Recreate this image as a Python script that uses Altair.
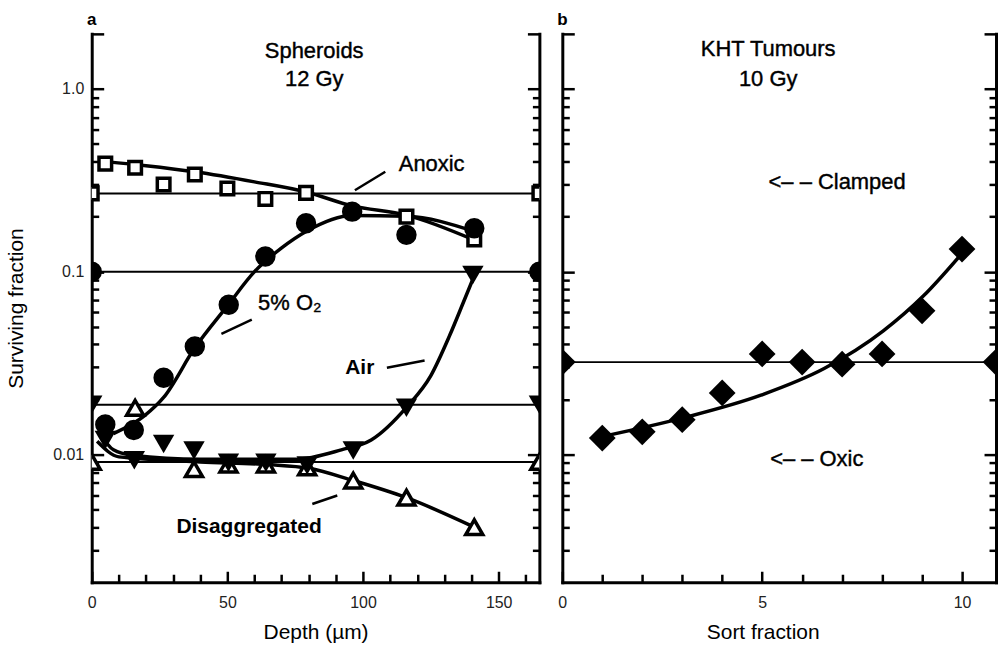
import altair as alt
import pandas as pd

# ---------------- Panel a: Spheroids, 12 Gy ----------------
anoxic_depth = [5, 16, 26.5, 38, 50, 64, 79, 116, 141]
anoxic_sf = [0.39, 0.37, 0.30, 0.34, 0.285, 0.25, 0.27, 0.20, 0.15]
o2_depth = [5, 15.5, 26.5, 38, 50.5, 64, 79, 96, 116, 141]
o2_sf = [0.0146, 0.0136, 0.0263, 0.039, 0.066, 0.121, 0.184, 0.213, 0.159, 0.173]
air_depth = [5, 15.7, 26.5, 37.7, 50.4, 64.2, 79.4, 96.4, 116, 140.5]
air_sf = [0.012, 0.0093, 0.0114, 0.0105, 0.0090, 0.0090, 0.0087, 0.0105, 0.018, 0.096]
dis_depth = [16, 37.7, 50.4, 64.2, 79.4, 96.4, 116, 141]
dis_sf = [0.018, 0.0083, 0.0088, 0.0088, 0.0085, 0.0072, 0.0058, 0.0040]

# hand-drawn fitted curves
anoxic_curve_depth = [5, 20, 38, 60, 79, 96, 116, 141]
anoxic_curve_sf = [0.40, 0.38, 0.352, 0.31, 0.273, 0.229, 0.204, 0.149]
o2_curve_depth = [8, 19.5, 26.5, 38, 50, 60, 70, 79, 96, 116, 141]
o2_curve_sf = [0.0130, 0.0163, 0.0205, 0.0383, 0.065, 0.10, 0.135, 0.166, 0.203, 0.201, 0.166]
air_curve_depth = [3, 8, 15, 40, 75, 92, 103, 116, 125, 132, 137, 141]
air_curve_sf = [0.0130, 0.0106, 0.0099, 0.0094, 0.0094, 0.0106, 0.0120, 0.0181, 0.027, 0.045, 0.068, 0.095]
dis_curve_depth = [2, 10, 40, 65, 80, 96.4, 116, 141]
dis_curve_sf = [0.0118, 0.0097, 0.0091, 0.0088, 0.0084, 0.0072, 0.0058, 0.0040]

# horizontal reference levels (markers sit at both ends)
level_names_a = ["Anoxic", "5% O2", "Air", "Disaggregated"]
level_sf_a = [0.268, 0.10, 0.0187, 0.0091]
edge_depth = [0, 165]

# ---------------- Panel b: KHT tumours, 10 Gy ----------------
sort_fraction = [1, 2, 3, 4, 5, 6, 7, 8, 9, 10]
kht_sf = [0.0123, 0.0133, 0.0155, 0.0217, 0.0355, 0.032, 0.0312, 0.0355, 0.0611, 0.133]
kht_curve_x = [1.05, 3.05, 4.97, 6.55, 8.03, 9.03, 10.0]
kht_curve_sf = [0.0126, 0.0159, 0.0211, 0.0295, 0.0474, 0.0735, 0.126]
level_sf_b = [0.032]
edge_sort = [0, 10.85]

# ---------------- ticks ----------------
y_ticks = [0.003, 0.004, 0.005, 0.006, 0.007, 0.008, 0.009,
           0.01, 0.02, 0.03, 0.04, 0.05, 0.06, 0.07, 0.08, 0.09,
           0.1, 0.2, 0.3, 0.4, 0.5, 0.6, 0.7, 0.8, 0.9, 1, 2]
x_ticks_a = [0, 10, 20, 30, 40, 50, 60, 70, 80, 90, 100, 110, 120, 130, 140, 150, 160]
x_ticks_b = [0, 1, 2, 3, 4, 5, 6, 7, 8, 9, 10]

# ---------------- annotations ----------------
ann_a_text = ["Anoxic", "5%  O₂"]
ann_a_x = [125.3, 73]
ann_a_y = [0.39, 0.0674]
ann_a_bold_text = ["Air", "Disaggregated"]
ann_a_bold_x = [98.8, 58]
ann_a_bold_y = [0.0298, 0.0040]
head_a_text = ["Spheroids", "12 Gy"]
head_a_x = [82, 82]
head_a_y = [1.62, 1.13]
lead_a_x = [108.2, 59, 108.8, 81.3]
lead_a_y = [0.352, 0.0546, 0.0298, 0.00536]
lead_a_x2 = [97, 47.8, 122.7, 90.5]
lead_a_y2 = [0.279, 0.0457, 0.0327, 0.00596]

head_b_text = ["KHT Tumours", "10 Gy"]
head_b_x = [5.15, 5.15]
head_b_y = [1.65, 1.13]
ann_b_text = ["<– – Clamped", "<– – Oxic"]
ann_b_x = [5.16, 5.2]
ann_b_y = [0.311, 0.0094]

FONT = "Liberation Sans"
Y_SCALE = alt.Scale(type="log", domain=[0.002, 2], nice=False)
XA_SCALE = alt.Scale(domain=[0, 165], nice=False, zero=False)
XB_SCALE = alt.Scale(domain=[0, 10.85], nice=False, zero=False)

Y_TICK = alt.ExprRef(expr="(datum.value == 0.01 || datum.value == 0.1 || datum.value == 1 || datum.value == 2) ? -12 : -7")
Y_LABELS = "datum.value == 1 ? '1.0' : (datum.value == 0.1 ? '0.1' : (datum.value == 0.01 ? '0.01' : ''))"

common_axis = dict(grid=False, domainColor="black", domainWidth=3, domainCap="square",
                   tickColor="black", tickWidth=2.5, labelOverlap=False, labelFlush=False)


def y_axis(orient, labels):
    if labels:
        return alt.Axis(orient=orient, values=y_ticks, tickSize=Y_TICK, labelExpr=Y_LABELS,
                        labelPadding=20, labelFont=FONT, labelFontSize=16, labelColor="#222",
                        titleFont=FONT, titleFontSize=21, titleFontWeight="normal",
                        titleColor="black", titlePadding=26, **common_axis)
    return alt.Axis(orient=orient, values=y_ticks, tickSize=Y_TICK, labels=False, **common_axis)


def x_axis(values, major, title_x=None):
    kw = dict(orient="bottom", values=values,
              tickSize=alt.ExprRef(expr=f"datum.value % {major} == 0 ? -11 : -8"),
              labelExpr=f"datum.value % {major} == 0 ? datum.label : ''",
              labelPadding=23, labelFont=FONT, labelFontSize=16, labelColor="#222",
              titleFont=FONT, titleFontSize=21, titleFontWeight="normal",
              titleColor="black", titlePadding=8, **common_axis)
    if title_x is not None:
        kw["titleX"] = title_x
    return alt.Axis(**kw)


def frame(xs, ys, **cols):
    d = {"x": xs, "y": ys}
    d.update(cols)
    return pd.DataFrame(d)


def build_panel(x_scale, x_ax, x_title, y_left, y_title, curves, marker_layers, texts, leaders,
                levels, letter, width):
    def enc(**extra):
        e = dict(x=alt.X("x:Q", scale=x_scale, axis=x_ax, title=x_title),
                 y=alt.Y("y:Q", scale=Y_SCALE, axis=y_left, title=y_title))
        e.update(extra)
        return e

    layers = []
    layers.append(alt.Chart(curves).mark_line(color="black", strokeWidth=3.5, interpolate="monotone")
                  .encode(**enc(detail="series:N")))
    for df, mk in marker_layers:
        layers.append(alt.Chart(df).mark_point(**mk).encode(**enc()))
    if leaders is not None:
        layers.append(alt.Chart(leaders).mark_rule(color="black", strokeWidth=2.5)
                      .encode(**enc(x2="x2:Q", y2="y2:Q")))
    for df, weight, align, size, sw in texts:
        layers.append(alt.Chart(df).mark_text(font=FONT, fontSize=size, fontWeight=weight, align=align,
                                              baseline="middle", color="black", stroke="black",
                                              strokeWidth=sw)
                      .encode(**enc(text="t:N")))
    layers.append(alt.Chart(pd.DataFrame({"t": [letter]}))
                  .mark_text(font=FONT, fontSize=17, fontWeight="bold", align="center",
                             baseline="alphabetic", color="black")
                  .encode(x=alt.value(0), y=alt.value(-9), text="t:N"))
    inner = alt.layer(*layers)
    rules = alt.Chart(levels).mark_rule(color="black", strokeWidth=2).encode(
        y=alt.Y("y:Q", scale=Y_SCALE, axis=y_axis("right", False), title=None))
    return alt.layer(rules, inner).resolve_scale(y="independent").properties(width=width, height=550)


# ---------- panel a data frames ----------
curves_a = pd.concat([
    frame(anoxic_curve_depth, anoxic_curve_sf, series="Anoxic"),
    frame(o2_curve_depth, o2_curve_sf, series="5% O2"),
    frame(air_curve_depth, air_curve_sf, series="Air"),
    frame(dis_curve_depth, dis_curve_sf, series="Disaggregated"),
])
sq_df = frame(anoxic_depth + edge_depth, anoxic_sf + [level_sf_a[0]] * 2)
ci_df = frame(o2_depth + edge_depth, o2_sf + [level_sf_a[1]] * 2)
air_df = frame(air_depth + edge_depth, air_sf + [level_sf_a[2]] * 2)
dis_df = frame(dis_depth + edge_depth, dis_sf + [level_sf_a[3]] * 2)

markers_a = [
    (sq_df, dict(shape="square", size=160, filled=True, fill="white", fillOpacity=1, stroke="black",
                 strokeWidth=3.5, opacity=1, clip=True)),
    (ci_df, dict(shape="circle", size=420, filled=True, color="black", opacity=1, clip=True)),
    (dis_df, dict(shape="triangle-up", size=290, filled=True, fill="white", fillOpacity=1, stroke="black",
                  strokeWidth=3.5, opacity=1, clip=True)),
    (air_df, dict(shape="triangle-down", size=460, filled=True, color="black", opacity=1, clip=True)),
]
texts_a = [
    (frame(ann_a_x, ann_a_y, t=ann_a_text), "normal", "center", 22, 0.4),
    (frame(ann_a_bold_x, ann_a_bold_y, t=ann_a_bold_text), "bold", "center", 21, 0),
    (frame(head_a_x, head_a_y, t=head_a_text), "normal", "center", 22, 0.4),
]
leaders_a = pd.DataFrame({"x": lead_a_x, "y": lead_a_y, "x2": lead_a_x2, "y2": lead_a_y2})
levels_a = pd.DataFrame({"y": level_sf_a, "name": level_names_a})

panel_a = build_panel(XA_SCALE, x_axis(x_ticks_a, 50), "Depth (µm)", y_axis("left", True),
                      "Surviving fraction", curves_a, markers_a, texts_a, leaders_a, levels_a, "a", 449)

# ---------- panel b data frames ----------
curves_b = frame(kht_curve_x, kht_curve_sf, series="KHT")
dia_df = frame(sort_fraction + edge_sort, kht_sf + level_sf_b * 2)
markers_b = [
    (dia_df, dict(shape="diamond", size=720, filled=True, color="black", opacity=1, clip=True)),
]
texts_b = [
    (frame(head_b_x, head_b_y, t=head_b_text), "normal", "center", 22, 0.4),
    (frame(ann_b_x, ann_b_y, t=ann_b_text), "normal", "left", 22, 0.4),
]
levels_b = pd.DataFrame({"y": level_sf_b})

panel_b = build_panel(XB_SCALE, x_axis(x_ticks_b, 5, title_x=201), "Sort fraction", y_axis("left", False),
                      None, curves_b, markers_b, texts_b, None, levels_b, "b", 435)

chart = alt.hconcat(panel_a, panel_b, spacing=15).configure_view(stroke=None).properties(
    padding={"left": 5, "top": 10, "right": 0, "bottom": 0}, background="white")

chart.save("out.html", embed_options={"renderer": "svg", "actions": False})
